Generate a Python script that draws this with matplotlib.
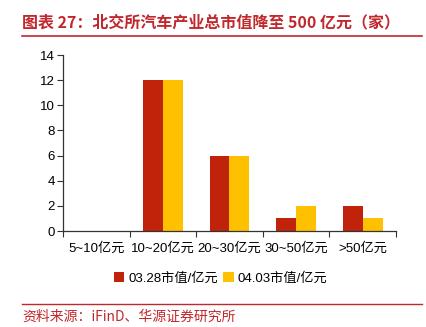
import matplotlib.pyplot as plt
import numpy as np

plt.rcParams['font.family'] = ['Liberation Sans', 'Noto Sans CJK SC', 'DejaVu Sans']

categories = ["5~10亿元", "10~20亿元", "20~30亿元", "30~50亿元", ">50亿元"]
mar28 = [0, 12, 6, 1, 2]
apr03 = [0, 12, 6, 2, 1]
series_names = ["03.28市值/亿元", "04.03市值/亿元"]

title = "图表 27：北交所汽车产业总市值降至 500 亿元（家）"
source = "资料来源：iFinD、华源证券研究所"

red = "#C0220A"
yellow = "#FFC000"
brand = "#C0282D"

fig = plt.figure(figsize=(4.27, 3.27), dpi=100)
ax = fig.add_axes([63 / 427, 1 - 231 / 327, 333 / 427, 176 / 327])

x = np.arange(len(categories))
w = 0.3
ax.bar(x - w / 2, mar28, w, color=red, label=series_names[0])
ax.bar(x + w / 2, apr03, w, color=yellow, label=series_names[1])

ax.set_xlim(-0.5, len(categories) - 0.5)
ax.set_ylim(0, 14)
ax.set_yticks(range(0, 15, 2))
ax.set_xticks(np.arange(-0.5, len(categories), 1))
ax.set_xticklabels([])
ax.set_xticks(x, minor=True)
ax.set_xticklabels(categories, minor=True)
ax.tick_params(axis='x', which='minor', length=0, pad=8, labelsize=9.5)
ax.tick_params(axis='x', which='major', length=4, direction='out', color="#333333")
ax.tick_params(axis='y', length=4, direction='out', labelsize=9.5, pad=2, color="#333333")
for s in ("top", "right"):
    ax.spines[s].set_visible(False)
for s in ("left", "bottom"):
    ax.spines[s].set_color("#333333")
    ax.spines[s].set_linewidth(0.9)

ax.legend(loc="center", bbox_to_anchor=(0.474, -0.267), ncol=2, frameon=False,
          fontsize=9.5, handlelength=0.8, handleheight=0.8, handletextpad=0.3,
          columnspacing=0.4, borderpad=0)

fig.text(22 / 427, 1 - 22 / 327, title, color=brand, fontsize=11.5, fontweight="bold",
         family=['Noto Sans CJK SC', 'DejaVu Sans'], va="center", ha="left")
fig.add_artist(plt.Line2D([22 / 427, 422 / 427], [1 - 36 / 327] * 2, color=brand, lw=1.2))
fig.add_artist(plt.Line2D([22 / 427, 422 / 427], [1 - 304 / 327] * 2, color=brand, lw=1.0))
fig.text(22 / 427, 1 - 317 / 327, source, color=brand, fontsize=10,
         family=['Noto Sans CJK SC', 'DejaVu Sans'], va="center", ha="left")

fig.savefig("out.png", dpi=100)
